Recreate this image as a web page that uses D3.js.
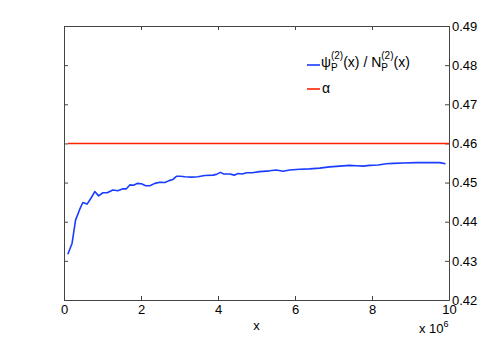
<!DOCTYPE html>
<html>
<head>
<meta charset="utf-8">
<script src="https://cdn.jsdelivr.net/npm/d3@7"></script>
<style>
  body { margin: 0; background: #fff; }
  text { font-family: "Liberation Sans", Arial, Helvetica, sans-serif; }
</style>
</head>
<body>
<div id="chart"></div>
<script>
// x values (in units of 10^6)
var xVals = [0.1, 0.21, 0.30, 0.41, 0.49, 0.6, 0.70, 0.80, 0.90, 1.01, 1.12, 1.27, 1.40, 1.53, 1.62,
  1.71, 1.81, 1.90, 2.01, 2.12, 2.23, 2.36, 2.49, 2.62, 2.73, 2.83, 2.92, 3.02, 3.14, 3.31,
  3.48, 3.65, 3.87, 3.96, 4.06, 4.15, 4.31, 4.42, 4.52, 4.63, 4.74, 4.89, 5.08, 5.34, 5.51,
  5.69, 5.86, 6.12, 6.38, 6.64, 6.90, 7.16, 7.42, 7.59, 7.77, 7.94, 8.16, 8.37, 8.55, 8.81,
  9.15, 9.50, 9.76, 9.91];
// psi_P^(2)(x) / N_P^(2)(x)
var ratioVals = [0.4317, 0.4345, 0.4404, 0.4432, 0.4449, 0.4445, 0.4460, 0.4477, 0.4466, 0.4474, 0.4474, 0.4481, 0.4479, 0.4484, 0.4484,
  0.4494, 0.4493, 0.4498, 0.4497, 0.4492, 0.4492, 0.4498, 0.4501, 0.4500, 0.4505, 0.4508, 0.4516, 0.4516, 0.4515, 0.4514,
  0.4515, 0.4518, 0.4519, 0.4521, 0.4526, 0.4522, 0.4522, 0.4519, 0.4523, 0.4522, 0.4525, 0.4525, 0.4528, 0.4530, 0.4532,
  0.4529, 0.4532, 0.4534, 0.4535, 0.4537, 0.4540, 0.4542, 0.4544, 0.4543, 0.4542, 0.4544, 0.4545, 0.4548, 0.4549, 0.4550,
  0.4551, 0.4551, 0.4551, 0.4548];
var alphaVal = 0.46;
var alphaX = [0.1, 10];
var xTicks = [0, 2, 4, 6, 8, 10];
var yTicks = [0.42, 0.43, 0.44, 0.45, 0.46, 0.47, 0.48, 0.49];

var W = 497, H = 338;
var margin = {top: 26, right: 48, bottom: 38, left: 64},
    width = W - margin.left - margin.right,
    height = H - margin.top - margin.bottom;

var svg = d3.select("#chart")
  .append("svg")
  .attr("width", W)
  .attr("height", H)
  .append("g")
  .attr("transform", "translate(" + margin.left + "," + margin.top + ")");

var x = d3.scaleLinear().domain([0, 10]).range([0, width]);
var y = d3.scaleLinear().domain([0.42, 0.49]).range([height, 0]);

var axisColor = "#444";

// box-style axes with inward ticks
svg.append("g")
  .attr("transform", "translate(0," + height + ")")
  .call(d3.axisBottom(x).tickValues(xTicks).tickSizeInner(-4).tickSizeOuter(0).tickPadding(5));
svg.append("g")
  .call(d3.axisTop(x).tickValues(xTicks).tickSizeInner(-4).tickSizeOuter(0).tickFormat(""));
svg.append("g")
  .call(d3.axisLeft(y).tickValues(yTicks).tickSizeInner(-4).tickSizeOuter(0).tickFormat(""));
svg.append("g")
  .attr("transform", "translate(" + width + ",0)")
  .call(d3.axisRight(y).tickValues(yTicks).tickSizeInner(-4).tickSizeOuter(0).tickPadding(3)
    .tickFormat(d3.format(".2f")));

svg.selectAll(".domain, .tick line").attr("stroke", axisColor).attr("stroke-width", 1);
svg.selectAll(".tick text").attr("fill", "#000").style("font-size", "13px");

// lines
svg.append("path")
  .datum(alphaX)
  .attr("fill", "none")
  .attr("stroke", "#ff2200")
  .attr("stroke-width", 1.6)
  .attr("d", d3.line().x(function(d) { return x(d); }).y(function() { return y(alphaVal); }));

svg.append("path")
  .datum(xVals.map(function(v, i) { return [v, ratioVals[i]]; }))
  .attr("fill", "none")
  .attr("stroke", "#1a3cff")
  .attr("stroke-width", 1.6)
  .attr("stroke-linejoin", "round")
  .attr("d", d3.line().x(function(d) { return x(d[0]); }).y(function(d) { return y(d[1]); }));

// axis labels
svg.append("text")
  .attr("x", x(5))
  .attr("y", height + 30)
  .attr("text-anchor", "middle")
  .style("font-size", "13px")
  .text("x");

var mult = svg.append("text")
  .attr("x", width - 30)
  .attr("y", height + 33)
  .style("font-size", "13px");
mult.append("tspan").text("x 10");
mult.append("tspan").attr("dy", -6).style("font-size", "9px").text("6");

// legend
var lg = svg.append("g").attr("transform", "translate(243,39)");
lg.append("line").attr("x1", 0).attr("x2", 13).attr("y1", 0).attr("y2", 0)
  .attr("stroke", "#1a3cff").attr("stroke-width", 1.6);
var t1 = lg.append("text").attr("x", 14).attr("y", 2).style("font-size", "14px");
t1.append("tspan").text("\u03C8");
t1.append("tspan").attr("dy", 4).style("font-size", "10px").text("P");
t1.append("tspan").attr("dx", -6.7).attr("dy", -12).style("font-size", "10px").text("(2)");
t1.append("tspan").attr("dy", 8).text("(x) / N");
t1.append("tspan").attr("dy", 4).style("font-size", "10px").text("P");
t1.append("tspan").attr("dx", -6.7).attr("dy", -12).style("font-size", "10px").text("(2)");
t1.append("tspan").attr("dy", 8).text("(x)");

lg.append("line").attr("x1", 0).attr("x2", 13).attr("y1", 24).attr("y2", 24)
  .attr("stroke", "#ff2200").attr("stroke-width", 1.6);
lg.append("text").attr("x", 15).attr("y", 28).style("font-size", "14px").text("\u03B1");
</script>
</body>
</html>
